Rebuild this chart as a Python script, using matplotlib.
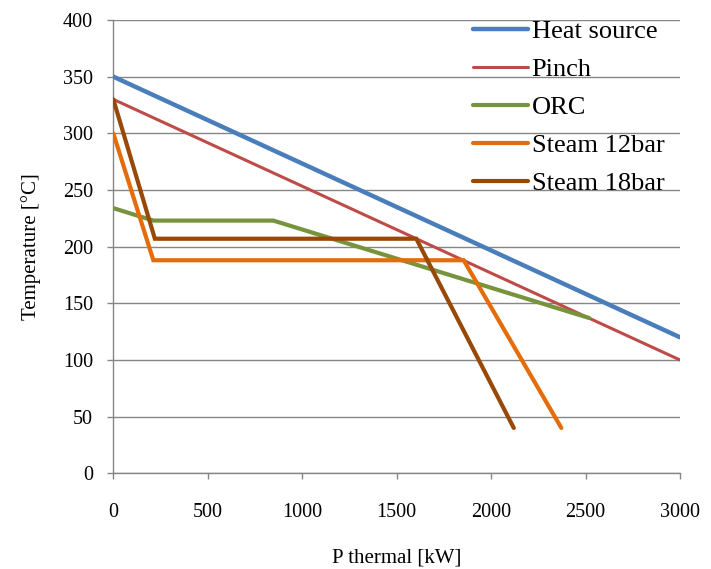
import matplotlib
matplotlib.use("Agg")
import matplotlib.pyplot as plt

plt.rcParams['font.family'] = ['Liberation Serif', 'DejaVu Serif']

heat_x = [0, 3000]
heat_y = [350, 120]
pinch_x = [0, 3000]
pinch_y = [330, 100]
orc_x = [0, 212, 847, 2520]
orc_y = [234, 223, 223, 137]
s12_x = [0, 212, 1855, 2372]
s12_y = [300, 188, 188, 40]
s18_x = [0, 220, 1604, 2120]
s18_y = [330, 207, 207, 40]

labels = ["Heat source", "Pinch", "ORC", "Steam 12bar", "Steam 18bar"]
colors = ["#4A7EBB", "#BE4B48", "#77933C", "#E46C0A", "#984807"]
widths = [3.2, 2.2, 3.0, 3.0, 3.0]

x_ticks = [0, 500, 1000, 1500, 2000, 2500, 3000]
y_ticks = [0, 50, 100, 150, 200, 250, 300, 350, 400]

fig = plt.figure(figsize=(7.11, 5.69), dpi=100)
ax = fig.add_axes([113.3/711, 1-473.3/569, (680-113.3)/711, (473.3-20)/569])

series = [(heat_x, heat_y), (pinch_x, pinch_y), (orc_x, orc_y), (s12_x, s12_y), (s18_x, s18_y)]
for (xs, ys), lab, c, w in zip(series, labels, colors, widths):
    ax.plot(xs, ys, color=c, lw=w, label=lab, solid_capstyle='round', solid_joinstyle='miter', zorder=3)

ax.set_xlim(0, 3000)
ax.set_ylim(0, 400)
ax.set_xticks(x_ticks)
ax.set_yticks(y_ticks)
ax.grid(axis='y', color='#868686', lw=1.0, zorder=1)
ax.set_axisbelow(True)
for s in ['top', 'right']:
    ax.spines[s].set_visible(False)
for s in ['left', 'bottom']:
    ax.spines[s].set_color('#868686')
    ax.spines[s].set_linewidth(1.0)
ax.tick_params(axis='both', colors='#868686', labelcolor='black', labelsize=14.5, length=4.5, width=1.0)
ax.tick_params(axis='x', pad=17)
ax.tick_params(axis='y', pad=10)

ax.set_xlabel("P thermal [kW]", fontsize=15, labelpad=19)
ax.set_ylabel("Temperature [°C]", fontsize=15, labelpad=16)

leg = ax.legend(loc='upper left', bbox_to_anchor=((473-113.3)/(680-113.3), 1.0 - 0/453), frameon=False,
                fontsize=19, handlelength=2.1, handletextpad=0.12, labelspacing=0.55,
                borderaxespad=0, borderpad=0)

fig.savefig("out.png", dpi=100)
